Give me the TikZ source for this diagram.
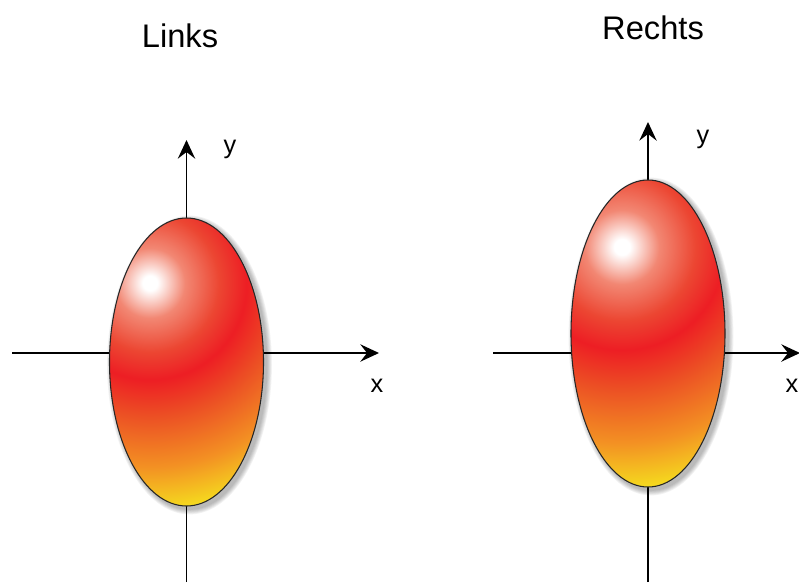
\documentclass[tikz,border=0pt]{standalone}
\usepackage{fontspec}
\setmainfont{Liberation Sans}
\usetikzlibrary{arrows.meta}
\definecolor{eggsalmon}{RGB}{242,135,115}
\definecolor{eggpink}{RGB}{236,70,50}
\definecolor{eggred}{RGB}{237,30,36}
\definecolor{eggredor}{RGB}{236,80,36}
\definecolor{eggorange}{RGB}{243,145,35}
\definecolor{eggyellow}{RGB}{245,225,30}
\pgfdeclareradialshading{eggshade}{\pgfpoint{0bp}{0bp}}{color(0bp)=(white); color(0.8bp)=(white); color(3.8bp)=(eggsalmon); color(7.5bp)=(eggpink); color(10.5bp)=(eggred); color(14.5bp)=(eggredor); color(20bp)=(eggorange); color(25bp)=(eggyellow); color(50bp)=(eggyellow)}
\tikzset{
  axis/.style={line width=1.3pt, black, -{Stealth[length=14pt,width=13pt,inset=5pt]}},
  axisplain/.style={line width=1.3pt, black},
  title/.style={font=\fontsize{24.5}{29}\selectfont, inner sep=0pt},
  axlabel/.style={font=\fontsize{19}{23}\selectfont, inner sep=0pt},
  eggline/.style={draw=black!85, line width=0.8pt},
  shadowstyle/.style={fill=black, opacity=0.05}
}
\begin{document}
\begin{tikzpicture}[x=0.75pt,y=-0.75pt]
\useasboundingbox (0,0) rectangle (799,582);
\clip (0,0) rectangle (799,582);
% ---------------- Links ----------------
\node[title] (tl) at (180,36) {Links};
\coordinate (lw) at (12,353);
\coordinate (le) at (379,353);
\coordinate (ln) at (186.5,140);
\coordinate (ls) at (186.5,582);
\draw[axis] (lw) -- (le);
\draw[axisplain] (ls) -- (186.5,362);
\draw[axis] (186.5,362) -- (ln);
\node[axlabel] (ly) at (230,149) {y};
\node[axlabel] (lx) at (377,386) {x};
\foreach \i in {1,...,6}
  \fill[shadowstyle] (189.5,365) ellipse [x radius=77+\i*0.9, y radius=144+\i*0.9];
\begin{scope}
  \clip (186.5,362) ellipse [x radius=77, y radius=144];
  \shade[shading=eggshade] (150,283) circle [radius=230];
\end{scope}
\draw[eggline] (186.5,362) ellipse [x radius=77, y radius=144];
% ---------------- Rechts ----------------
\node[title] (tr) at (653,28) {Rechts};
\coordinate (rw) at (493,353);
\coordinate (re) at (800,353);
\coordinate (rn) at (648,122);
\coordinate (rs) at (648,582);
\draw[axis] (rw) -- (re);
\draw[axisplain] (rs) -- (648,334);
\draw[axis] (648,334) -- (rn);
\node[axlabel] (ry) at (703,139) {y};
\node[axlabel] (rx) at (792,386) {x};
\foreach \i in {1,...,6}
  \fill[shadowstyle] (651,336.5) ellipse [x radius=77+\i*0.9, y radius=153.5+\i*0.9];
\begin{scope}
  \clip (648,333.5) ellipse [x radius=77, y radius=153.5];
  \shade[shading=eggshade] (622,247) circle [radius=245];
\end{scope}
\draw[eggline] (648,333.5) ellipse [x radius=77, y radius=153.5];
\end{tikzpicture}
\end{document}
